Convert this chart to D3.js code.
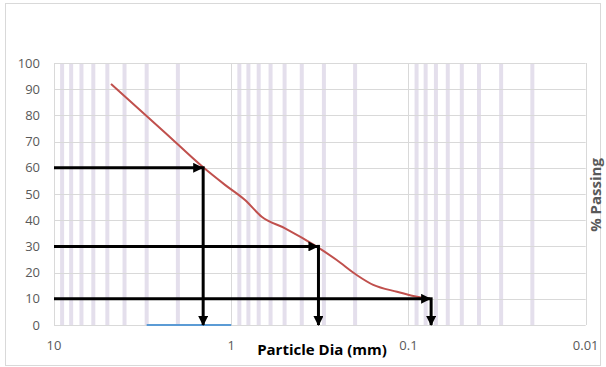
<!DOCTYPE html>
<html>
<head>
<meta charset="utf-8">
<script src="https://cdn.jsdelivr.net/npm/d3@7"></script>
<style>
  body { margin: 0; background: #fff; }
  text { font-family: "Open Sans", sans-serif; }
</style>
</head>
<body>
<div id="chart"></div>
<script>
// sieve curve
var sizeMm  = [4.77, 2.36, 1.44, 1.08, 0.836, 0.673, 0.497, 0.329, 0.254, 0.196, 0.158, 0.116, 0.079, 0.076];
var passing = [92, 73.4, 60.2, 53.4, 47.7, 41.3, 36.9, 29.9, 24.8, 19.1, 15.3, 12.7, 10.1, 10];

// D60, D30, D10 markers
var dPct  = [60, 30, 10];
var dSize = [1.44, 0.322, 0.0745];

// blue segment on the x axis
var blueSize = [3, 1];
var blueVal  = [0, 0];

var xTickVals = [10, 1, 0.1, 0.01];
var xTickText = ["10", "1", "0.1", "0.01"];
var yTickVals = [0, 10, 20, 30, 40, 50, 60, 70, 80, 90, 100];

var W = 606, H = 367;

var svg = d3.select("#chart").append("svg")
    .attr("width", W)
    .attr("height", H);

var x = d3.scaleLog().domain([10, 0.01]).range([54, 585.7]);
var y = d3.scaleLinear().domain([0, 100]).range([325, 63]);

// outer chart border
svg.append("rect")
    .attr("x", 5.5).attr("y", 3.5)
    .attr("width", 595).attr("height", 362)
    .attr("fill", "none")
    .attr("stroke", "#d9d9d9");

svg.append("defs").append("marker")
    .attr("id", "arrow")
    .attr("markerUnits", "userSpaceOnUse")
    .attr("viewBox", "0 0 10 10")
    .attr("refX", 9).attr("refY", 5)
    .attr("markerWidth", 10).attr("markerHeight", 10)
    .attr("orient", "auto")
  .append("path")
    .attr("d", "M0,0L10,5L0,10z")
    .attr("fill", "#000");

// minor gridlines (thick lavender)
var minor = x.ticks().filter(function(d) {
  var l = Math.log10(d);
  return Math.abs(l - Math.round(l)) > 1e-6;
});
svg.append("g").selectAll("line")
  .data(minor)
  .enter().append("line")
    .attr("x1", function(d) { return x(d); })
    .attr("x2", function(d) { return x(d); })
    .attr("y1", y(100)).attr("y2", y(0))
    .attr("stroke", "#e4dfec")
    .attr("stroke-width", 4);

// major gridlines
svg.append("g").selectAll("line")
  .data(yTickVals)
  .enter().append("line")
    .attr("x1", x(10)).attr("x2", x(0.01))
    .attr("y1", function(d) { return Math.round(y(d)) + 0.5; })
    .attr("y2", function(d) { return Math.round(y(d)) + 0.5; })
    .attr("stroke", "#d9d9d9");

svg.append("g").selectAll("line")
  .data(xTickVals)
  .enter().append("line")
    .attr("x1", function(d) { return Math.round(x(d)) + 0.5; })
    .attr("x2", function(d) { return Math.round(x(d)) + 0.5; })
    .attr("y1", y(100)).attr("y2", y(0))
    .attr("stroke", "#d9d9d9");

// tick labels
svg.append("g").selectAll("text")
  .data(yTickVals)
  .enter().append("text")
    .attr("x", 40)
    .attr("y", function(d) { return y(d); })
    .attr("dy", "0.35em")
    .attr("text-anchor", "end")
    .attr("font-size", 13)
    .attr("fill", "#595959")
    .text(function(d) { return d; });

svg.append("g").selectAll("text")
  .data(xTickVals)
  .enter().append("text")
    .attr("x", function(d) { return x(d); })
    .attr("y", 350)
    .attr("text-anchor", "middle")
    .attr("font-size", 13)
    .attr("fill", "#595959")
    .text(function(d, i) { return xTickText[i]; });

// blue segment
var blueLine = d3.line()
    .x(function(d) { return x(d[0]); })
    .y(function(d) { return y(d[1]); });
svg.append("path")
    .attr("d", blueLine(d3.zip(blueSize, blueVal)))
    .attr("stroke", "#5b9bd5")
    .attr("stroke-width", 2)
    .attr("fill", "none");

// grading curve
var line = d3.line()
    .curve(d3.curveMonotoneX)
    .x(function(d) { return x(d[0]); })
    .y(function(d) { return y(d[1]); });

svg.append("path")
    .attr("d", line(d3.zip(sizeMm, passing)))
    .attr("stroke", "#c0504d")
    .attr("stroke-width", 2)
    .attr("fill", "none");

// D-value arrows
var arrows = svg.append("g");
dPct.forEach(function(p, i) {
  arrows.append("line")
      .attr("x1", x(10)).attr("x2", x(dSize[i]) - 1)
      .attr("y1", y(p)).attr("y2", y(p))
      .attr("stroke", "#000").attr("stroke-width", 3)
      .attr("marker-end", "url(#arrow)");
  arrows.append("line")
      .attr("x1", x(dSize[i])).attr("x2", x(dSize[i]))
      .attr("y1", y(p) - 1.5).attr("y2", y(0))
      .attr("stroke", "#000").attr("stroke-width", 3)
      .attr("marker-end", "url(#arrow)");
});

// axis titles
svg.append("text")
    .attr("x", 322).attr("y", 355)
    .attr("text-anchor", "middle")
    .attr("font-size", 15)
    .attr("font-weight", "bold")
    .attr("fill", "#000")
    .text("Particle Dia (mm)");

svg.append("text")
    .attr("transform", "translate(601,195) rotate(-90)")
    .attr("text-anchor", "middle")
    .attr("font-size", 15)
    .attr("font-weight", "bold")
    .attr("fill", "#595959")
    .text("% Passing");
</script>
</body>
</html>
